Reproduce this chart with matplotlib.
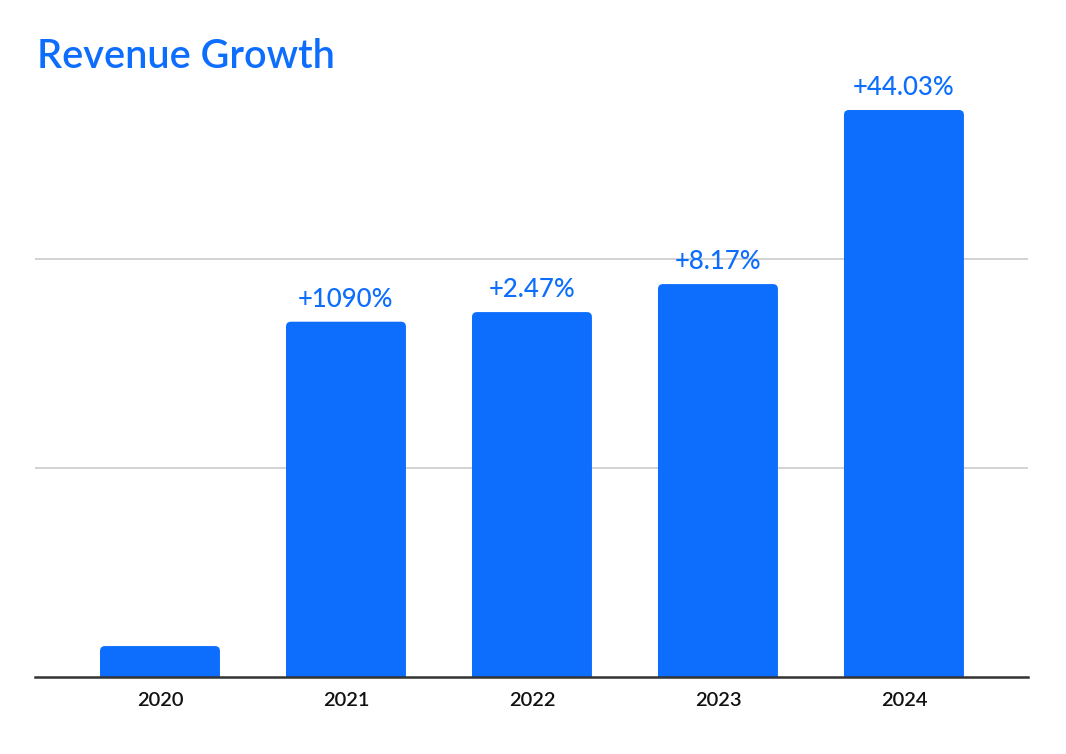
import numpy as np
import matplotlib
matplotlib.use("Agg")
import matplotlib.pyplot as plt
from matplotlib.patches import FancyBboxPatch

# data (gridline spacing = 1 unit)
years = ["2020", "2021", "2022", "2023", "2024"]
revenue = [0.148, 1.70, 1.746, 1.880, 2.713]
growth_labels = ["", "+1090%", "+2.47%", "+8.17%", "+44.03%"]

blue = "#0D6EFD"
plt.rcParams['font.family'] = ['Lato', 'DejaVu Sans']

fig = plt.figure(figsize=(10.66, 7.54), dpi=100)
ax = fig.add_axes([35/1066, 77/754, (1028-35)/1066, (677-50)/754])

x = np.arange(len(years))
width = 0.645
bars = ax.bar(x, revenue, width=width, color=blue, alpha=0)

# rounded tops: draw each bar again as a rounded box that runs below zero (clipped)
rad_x = 5/186
aspect = 186/209
for b in bars:
    p = FancyBboxPatch((b.get_x(), -0.1), b.get_width(), b.get_height() + 0.1,
                       boxstyle=f"round,pad=0,rounding_size={rad_x}",
                       mutation_aspect=aspect, facecolor=blue, edgecolor="none",
                       zorder=3)
    ax.add_patch(p)

for xi, v, lab in zip(x, revenue, growth_labels):
    if lab:
        ax.annotate(lab, (xi, v), xytext=(0, 7), textcoords="offset points",
                    ha="center", va="bottom", color=blue, fontsize=18.5,
                    fontweight="medium")

ax.set_xlim(-0.672, 4.667)
ax.set_ylim(0, 3)
ax.set_yticks([1, 2])
ax.yaxis.grid(True, color="#cccccc", linewidth=1.2)
ax.set_axisbelow(True)
ax.tick_params(axis="y", left=False, labelleft=False)
ax.set_xticks(x)
ax.set_xticklabels(years, fontsize=14.5, fontweight="semibold", color="#111111")
ax.tick_params(axis="x", length=0, pad=11)
for s in ["top", "right", "left"]:
    ax.spines[s].set_visible(False)
ax.spines["bottom"].set_color("#333333")
ax.spines["bottom"].set_linewidth(1.8)
ax.spines["bottom"].set_zorder(4)

fig.text(37/1066, 1 - 68/754, "Revenue Growth", color=blue, fontsize=28.5,
         fontweight="semibold", ha="left", va="baseline")

fig.savefig("out.png", dpi=100, facecolor="white")
